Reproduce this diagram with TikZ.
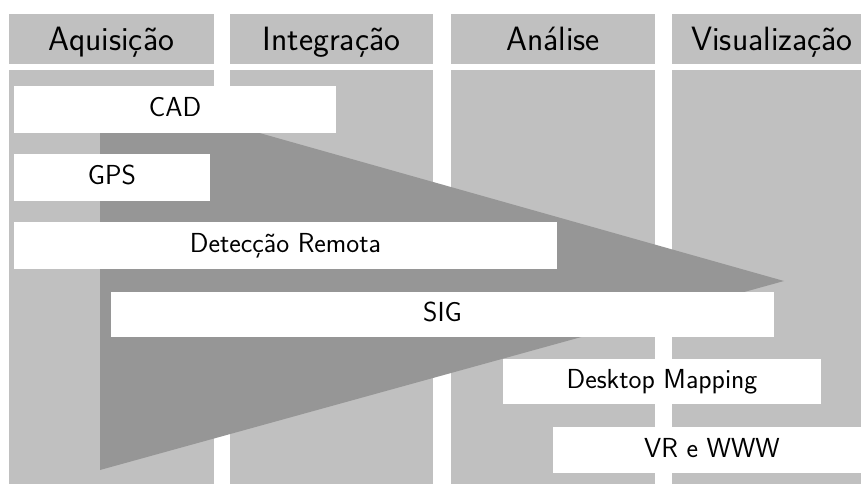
\documentclass[tikz,border=0pt]{standalone}
\usepackage{tikz}
\definecolor{colgray}{RGB}{192,192,192}
\definecolor{tridark}{RGB}{150,150,150}
\tikzset{
  header/.style={fill=colgray, draw=none, inner sep=0pt, minimum height=50pt,
    text height=23.4pt, text depth=0pt,
    font=\sffamily\fontsize{33.7}{38}\selectfont, text=black},
  toolbox/.style={fill=white, draw=none, inner sep=0pt,
    text height=14pt, text depth=0pt,
    font=\sffamily\fontsize{27.5}{32}\selectfont, text=black},
}
\begin{document}
\begin{tikzpicture}[x=1pt, y=-1pt]
\useasboundingbox (0,0) rectangle (861,484);
\fill[white] (0,0) rectangle (861,484);
% column bodies
\fill[colgray] (9,70) rectangle (214,484);
\fill[colgray] (230,70) rectangle (433,484);
\fill[colgray] (451,70) rectangle (655,484);
\fill[colgray] (672,70) rectangle (861,484);
% headers
\fill[colgray] (672,14) rectangle (861,64);
\node[header, minimum width=205pt] (h1) at (111.5,39) {Aquisição};
\node[header, minimum width=203pt] (h2) at (331.5,39) {Integração};
\node[header, minimum width=204pt] (h3) at (553,39) {Análise};
\node[header, fill=none] (h4) at (772,39) {Visualização};
% triangle
\fill[tridark] (100,88) -- (784,281) -- (100,470) -- cycle;
% boxes
\node[toolbox, minimum width=322pt, minimum height=47pt] (cad) at (175,109.5) {CAD};
\node[toolbox, minimum width=196pt, minimum height=47pt] (gps) at (112,177.5) {GPS};
\node[toolbox, minimum width=543pt, minimum height=47pt] (dr) at (285.5,245.5) {Detecção Remota};
\node[toolbox, minimum width=663pt, minimum height=45pt] (sig) at (442.5,314.5) {SIG};
\node[toolbox, minimum width=318pt, minimum height=45pt] (dm) at (662,381.5) {Desktop Mapping};
\node[toolbox, minimum width=308pt, minimum height=46pt] (vr) at (707,450) {\hspace*{10pt}VR e WWW};
\end{tikzpicture}
\end{document}
